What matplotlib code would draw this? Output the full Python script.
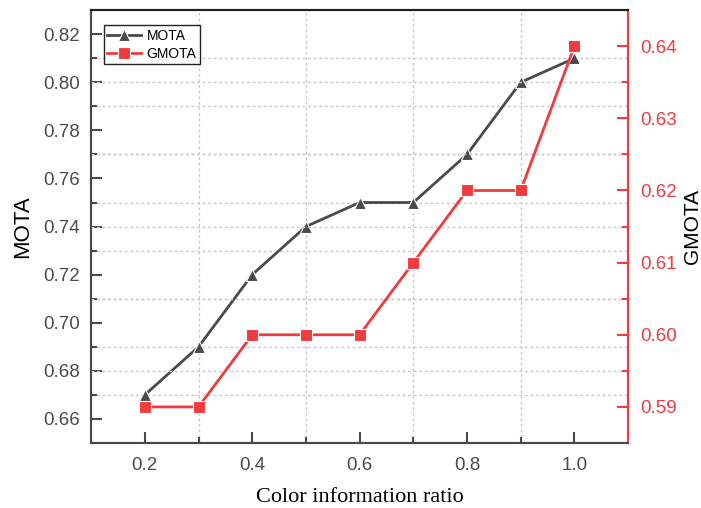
import matplotlib.pyplot as plt
from matplotlib.ticker import MultipleLocator, FixedLocator

plt.rcParams['font.family'] = ['Liberation Sans', 'DejaVu Sans']

ratio = [0.2, 0.3, 0.4, 0.5, 0.6, 0.7, 0.8, 0.9, 1.0]
mota = [0.67, 0.69, 0.72, 0.74, 0.75, 0.75, 0.77, 0.80, 0.81]
gmota = [0.59, 0.59, 0.60, 0.60, 0.60, 0.61, 0.62, 0.62, 0.64]

grey = '#4a4a4a'
red = '#f03a3d'
gridc = '#c8c8c8'

fig = plt.figure(figsize=(7.01, 5.08), dpi=100)
ax = fig.add_axes([0.130, 0.128, 0.766, 0.852])
ax2 = ax.twinx()

l1, = ax.plot(ratio, mota, '-^', color=grey, lw=2, ms=9, mec='white', mew=0.8, label='MOTA')
l2, = ax2.plot(ratio, gmota, '-s', color=red, lw=2, ms=8, mec='white', mew=0.8, label='GMOTA')

ax.set_xlim(0.1, 1.1)
ax.set_ylim(0.65, 0.83)
ax2.set_ylim(0.585, 0.645)

ax.xaxis.set_major_locator(MultipleLocator(0.2))
ax.xaxis.set_minor_locator(FixedLocator([0.3, 0.5, 0.7, 0.9]))
ax.yaxis.set_major_locator(MultipleLocator(0.02))
ax.yaxis.set_minor_locator(FixedLocator([0.67, 0.69, 0.71, 0.73, 0.75, 0.77, 0.79, 0.81]))
ax2.yaxis.set_major_locator(MultipleLocator(0.01))
ax2.yaxis.set_minor_locator(FixedLocator([0.595, 0.605, 0.615, 0.625, 0.635]))

ax.xaxis.set_major_formatter(plt.FormatStrFormatter('%.1f'))
ax.yaxis.set_major_formatter(plt.FormatStrFormatter('%.2f'))
ax2.yaxis.set_major_formatter(plt.FormatStrFormatter('%.2f'))

# grid on the lower axes, plus the right-axis minor grid
ax.grid(which='minor', axis='both', color=gridc, ls=(0, (2, 2)), lw=1)
ax2.grid(which='minor', axis='y', color=gridc, ls=(0, (2, 2)), lw=1)
ax.set_axisbelow(True)
ax2.set_axisbelow(True)

ax.tick_params(which='both', direction='in', labelsize=13.5, colors=grey, width=1.5)
ax.tick_params(which='major', length=8)
ax.tick_params(which='minor', length=4)
ax.tick_params(axis='x', pad=10)
ax.tick_params(axis='y', pad=8)
ax2.tick_params(which='both', direction='in', labelsize=13.5, colors=red, width=1.5, pad=9)
ax2.tick_params(which='major', length=8)
ax2.tick_params(which='minor', length=4)

for a in (ax, ax2):
    a.spines['left'].set_color(grey)
    a.spines['bottom'].set_color(grey)
    a.spines['top'].set_color('#222222')
    a.spines['right'].set_color(red)
    for s in a.spines.values():
        s.set_linewidth(1.5)

ax.set_xlabel('Color information ratio', family=['Liberation Serif'], fontsize=16, labelpad=10)
ax.set_ylabel('MOTA', fontsize=16, labelpad=7)
ax2.set_ylabel('GMOTA', fontsize=15, labelpad=4)

leg = ax2.legend([l1, l2], ['MOTA', 'GMOTA'], loc='upper left', fontsize=10,
                 fancybox=False, edgecolor='#222222', framealpha=1,
                 borderpad=0.25, handlelength=2.4, handletextpad=0.4,
                 labelspacing=0.3, borderaxespad=0,
                 bbox_to_anchor=(0.024, 0.965))
leg.get_frame().set_linewidth(1)

fig.savefig('out.png', dpi=100)
